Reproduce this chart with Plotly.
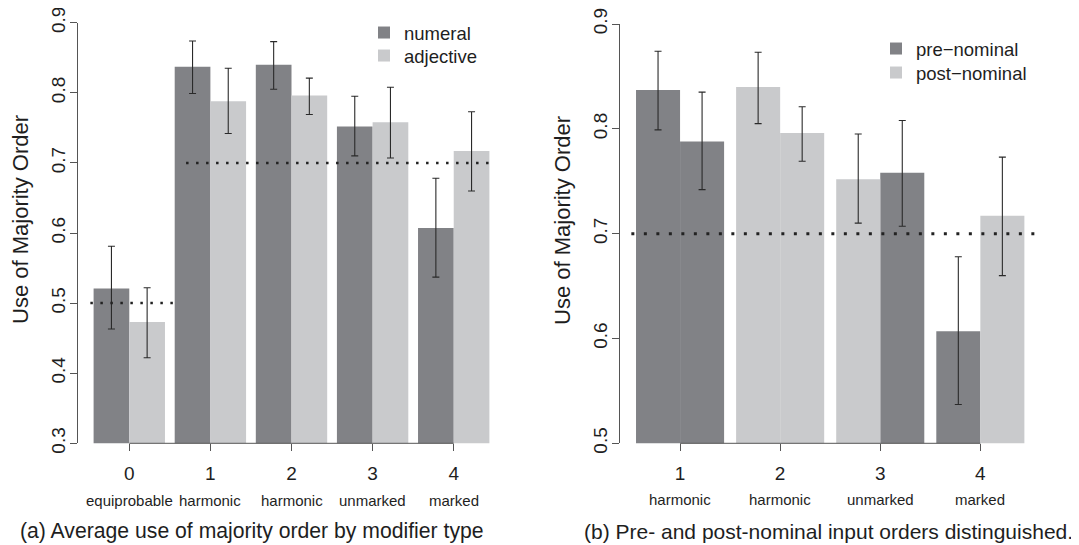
import plotly.graph_objects as go

# ---------------- data ----------------
conditions = [0, 1, 2, 3, 4]
condition_names = ["equiprobable", "harmonic", "harmonic", "unmarked", "marked"]

numeral = [0.521, 0.837, 0.840, 0.752, 0.607]
numeral_hi = [0.581, 0.874, 0.873, 0.795, 0.678]
numeral_lo = [0.463, 0.799, 0.805, 0.710, 0.537]

adjective = [0.473, 0.788, 0.796, 0.758, 0.717]
adjective_hi = [0.522, 0.835, 0.821, 0.808, 0.773]
adjective_lo = [0.422, 0.742, 0.769, 0.707, 0.660]

# right panel: same conditions 1-4, first/second bar coloured by input order
conditions_b = [1, 2, 3, 4]
condition_names_b = ["harmonic", "harmonic", "unmarked", "marked"]
first_bar_order = ["pre", "post", "post", "pre"]
second_bar_order = ["pre", "post", "pre", "post"]

chance_levels_a = [0.5, 0.7]
chance_level_b = 0.7

yticks_a = [0.3, 0.4, 0.5, 0.6, 0.7, 0.8, 0.9]
yticks_b = [0.5, 0.6, 0.7, 0.8, 0.9]

# ---------------- styling ----------------
PAGE_W, PAGE_H = 1079, 545
OFF = 8  # default body margin of the html page
W, H = PAGE_W - OFF, PAGE_H - OFF


def px(x):  # page pixel -> paper fraction
    return (x - OFF) / W


def py(y):
    return (H - (y - OFF)) / H


FONT = "Liberation Sans"
DARK = "#818286"
LIGHT = "#c9cacc"
ERR = "#2a2a2a"
AXC = "#555555"
TXT = "#1e1e1e"
BW = 0.44  # width of one bar in category units

fig = go.Figure()


def add_bar(xs, ys, his, los, offs, color, name, xa, ya, legend):
    fig.add_trace(go.Bar(
        x=xs, y=ys, width=BW, offset=offs,
        marker=dict(color=color, line=dict(width=0)),
        error_y=dict(type="data", symmetric=False,
                     array=[h - v for h, v in zip(his, ys)],
                     arrayminus=[v - l for v, l in zip(ys, los)],
                     color=ERR, thickness=1.1, width=3.5),
        name=name, xaxis=xa, yaxis=ya, legend=legend, showlegend=True,
        hoverinfo="skip"))


# left panel
add_bar(conditions, numeral, numeral_hi, numeral_lo, -BW, DARK, "numeral", "x", "y", "legend")
add_bar(conditions, adjective, adjective_hi, adjective_lo, 0.0, LIGHT, "adjective", "x", "y", "legend2")

# right panel: gather bars by input order
for order, color, label, lg in [("pre", DARK, "pre\u2212nominal", "legend3"),
                                ("post", LIGHT, "post\u2212nominal", "legend4")]:
    xs, ys, his, los, offs = [], [], [], [], []
    for i, c in enumerate(conditions_b):
        src = conditions.index(c)
        if first_bar_order[i] == order:
            xs.append(c); ys.append(numeral[src]); his.append(numeral_hi[src]); los.append(numeral_lo[src]); offs.append(-BW)
        if second_bar_order[i] == order:
            xs.append(c); ys.append(adjective[src]); his.append(adjective_hi[src]); los.append(adjective_lo[src]); offs.append(0.0)
    add_bar(xs, ys, his, los, offs, color, label, "x2", "y2", lg)

# ---------------- axes ----------------
xr_a = [-0.636, 4.636]
xr_b = [0.40, 4.60]
common_x = dict(showgrid=False, zeroline=False, showline=False, ticks="outside", automargin=False,
                ticklen=7, tickwidth=1, tickcolor=AXC, ticklabelstandoff=6,
                ticklabeloverflow="allow",
                tickfont=dict(family=FONT, size=19, color=TXT))
common_y = dict(showgrid=False, zeroline=False, showline=True, linecolor=AXC, linewidth=1,
                ticks="outside", ticklen=7, tickwidth=1, tickcolor=AXC, tickangle=-90,
                ticklabelstandoff=-3, ticklabeloverflow="allow",
                automargin=False, tickformat=".1f", tickfont=dict(family=FONT, size=19, color=TXT))


def legend_at(x, y):
    return dict(x=px(x), y=py(y), xanchor="left", yanchor="middle", bgcolor="rgba(0,0,0,0)",
                font=dict(family=FONT, size=18.5, color=TXT), borderwidth=0)


fig.update_layout(
    template="none",
    width=W, height=H, margin=dict(l=0, r=0, t=0, b=0, autoexpand=False),
    paper_bgcolor="white", plot_bgcolor="white", barmode="overlay",
    font=dict(family=FONT, color=TXT),
    xaxis=dict(domain=[px(77.7), px(505.3)], range=xr_a, tickvals=conditions,
               ticktext=[str(c) for c in conditions], anchor="y", **common_x),
    yaxis=dict(domain=[py(443.3), py(22.7)], range=[yticks_a[0], yticks_a[-1]], tickvals=yticks_a,
               anchor="x", **common_y),
    xaxis2=dict(domain=[px(620), px(1040.4)], range=xr_b, tickvals=conditions_b,
                ticktext=[str(c) for c in conditions_b], anchor="y2", **common_x),
    yaxis2=dict(domain=[py(443.3), py(24)], range=[yticks_b[0], yticks_b[-1]], tickvals=yticks_b,
                anchor="x2", **common_y),
    legend=legend_at(364, 33),
    legend2=legend_at(364, 56),
    legend3=legend_at(876, 49),
    legend4=legend_at(876, 73),
)

shapes = []
# R-style x axis lines spanning first to last tick
shapes.append(dict(type="line", xref="x", yref="y domain", x0=conditions[0], x1=conditions[-1],
                   y0=0, y1=0, line=dict(color=AXC, width=1), layer="above"))
shapes.append(dict(type="line", xref="x2", yref="y2 domain", x0=conditions_b[0], x1=conditions_b[-1],
                   y0=0, y1=0, line=dict(color=AXC, width=1), layer="above"))
# chance-level dotted lines
shapes.append(dict(type="line", xref="x", yref="y", x0=conditions[0] - 0.48, x1=conditions[1] - 0.44,
                   y0=chance_levels_a[0], y1=chance_levels_a[0],
                   line=dict(color="#222222", width=2.5, dash="2.5px,7.5px"), layer="above"))
shapes.append(dict(type="line", xref="x", yref="y", x0=conditions[1] - 0.30, x1=conditions[-1] + 0.44,
                   y0=chance_levels_a[1], y1=chance_levels_a[1],
                   line=dict(color="#222222", width=2.5, dash="2.5px,7.5px"), layer="above"))
shapes.append(dict(type="line", xref="x2 domain", yref="y2", x0=0.027, x1=1.0,
                   y0=chance_level_b, y1=chance_level_b,
                   line=dict(color="#222222", width=3, dash="3px,9.5px"), layer="above"))
fig.update_layout(shapes=shapes)

ann = []
for c, n in zip(conditions, condition_names):
    ann.append(dict(x=c, xref="x", y=py(500), yref="paper", text=n, showarrow=False,
                    font=dict(family=FONT, size=15, color=TXT), xanchor="center", yanchor="middle"))
for c, n in zip(conditions_b, condition_names_b):
    ann.append(dict(x=c, xref="x2", y=py(499), yref="paper", text=n, showarrow=False,
                    font=dict(family=FONT, size=15, color=TXT), xanchor="center", yanchor="middle"))
# y axis titles
for xt, yt in [(20, 220), (563, 221)]:
    ann.append(dict(x=px(xt), y=py(yt), xref="paper", yref="paper", text="Use of Majority Order",
                    textangle=-90, showarrow=False, font=dict(family=FONT, size=22, color=TXT),
                    xanchor="center", yanchor="middle"))
# captions
ann.append(dict(x=px(18), y=py(531), xref="paper", yref="paper",
                text="(a) Average use of majority order by modifier type", showarrow=False,
                font=dict(family=FONT, size=21.2, color=TXT), xanchor="left", yanchor="middle"))
ann.append(dict(x=px(582), y=py(531), xref="paper", yref="paper",
                text="(b) Pre- and post-nominal input orders distinguished.", showarrow=False,
                font=dict(family=FONT, size=21, color=TXT), xanchor="left", yanchor="middle"))
fig.update_layout(annotations=ann)

fig.write_html("out.html")
